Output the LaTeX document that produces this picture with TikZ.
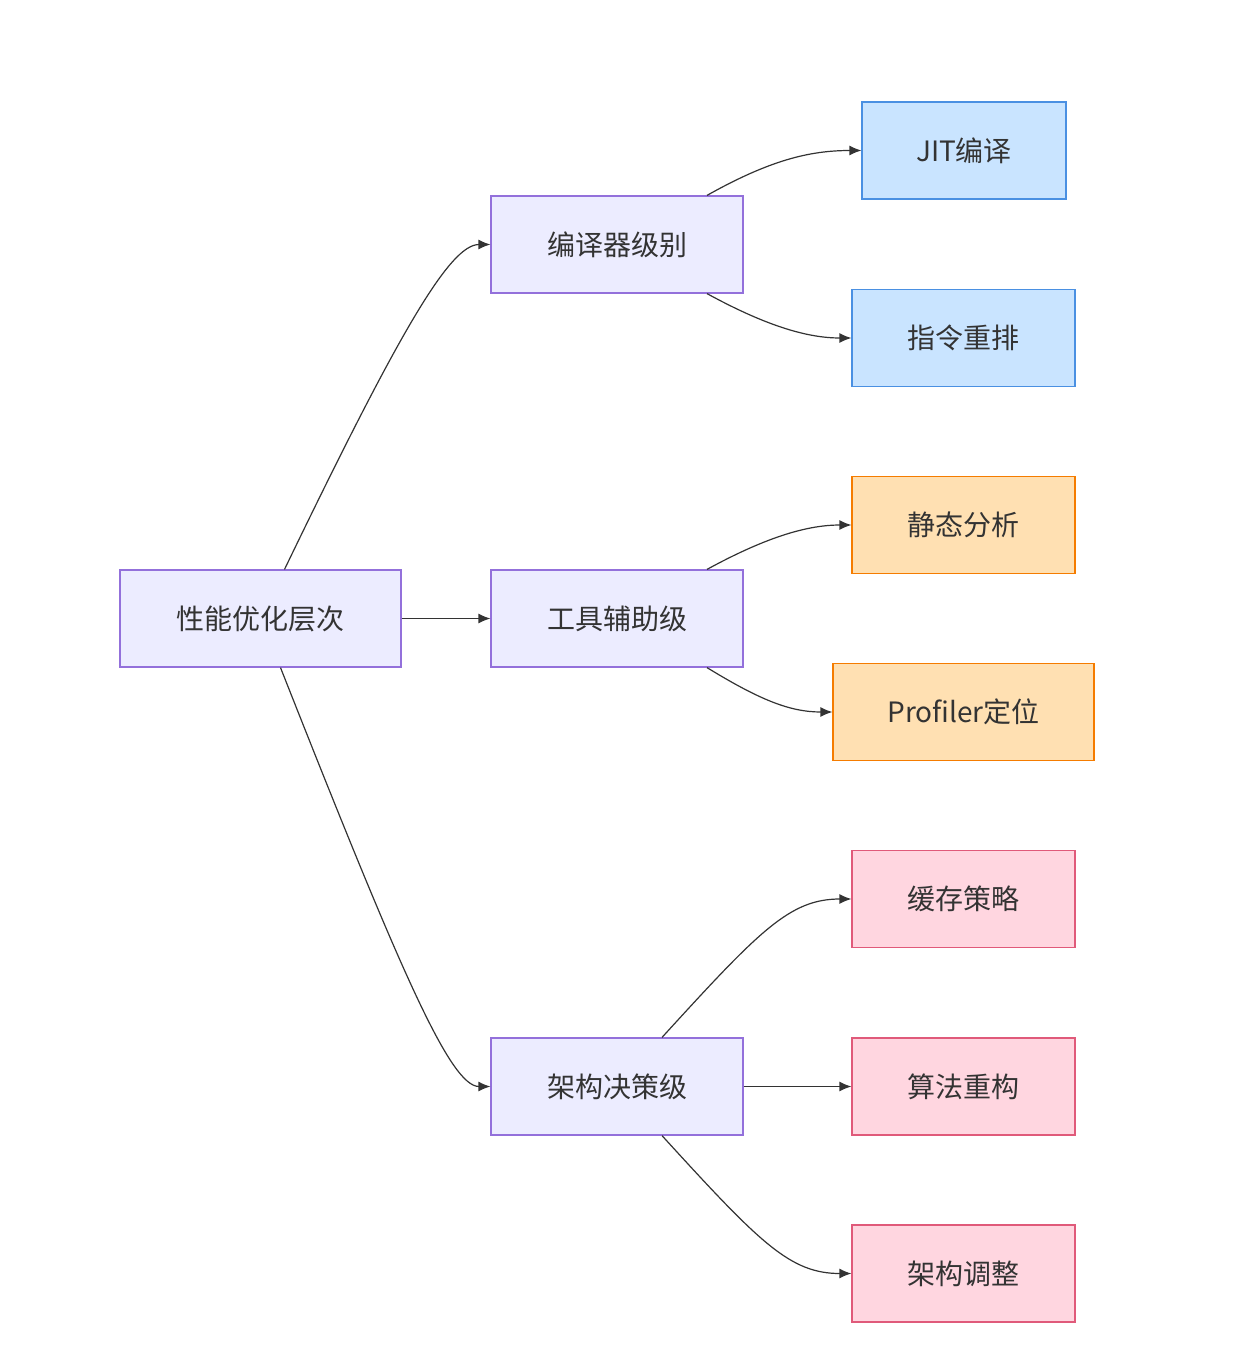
\documentclass[tikz,border=0pt]{standalone}
\usepackage{fontspec}
\setmainfont{Noto Sans CJK SC}
\usetikzlibrary{arrows.meta,calc}
\definecolor{pf}{HTML}{ECECFF}\definecolor{ps}{HTML}{9370DB}
\definecolor{bf}{HTML}{C9E4FF}\definecolor{bs}{HTML}{4A90E2}
\definecolor{of}{HTML}{FFE0B2}\definecolor{os}{HTML}{F57C00}
\definecolor{kf}{HTML}{FFD6E0}\definecolor{ks}{HTML}{E05A7A}
\definecolor{ln}{HTML}{333333}
\begin{document}
\begin{tikzpicture}[x=1pt,y=-1pt,
 box/.style={draw,line width=1.2pt,minimum height=97pt,font=\fontsize{28}{32}\selectfont,text=ln,inner sep=0pt},
 pu/.style={box,fill=pf,draw=ps},
 bl/.style={box,fill=bf,draw=bs},
 og/.style={box,fill=of,draw=os},
 pk/.style={box,fill=kf,draw=ks},
 ar/.style={draw=ln,line width=1.2pt,-{Latex[length=12pt,width=10pt]}}]
\useasboundingbox (0,0) rectangle (1236,1356);
\node[pu,minimum width=281pt] (r) at (260.5,618.5) {性能优化层次};
\node[pu,minimum width=252pt] (a) at (617,244.5) {编译器级别};
\node[pu,minimum width=252pt] (b) at (617,618.5) {工具辅助级};
\node[pu,minimum width=252pt] (c) at (617,1086.5) {架构决策级};
\node[bl,minimum width=204pt] (a1) at (964,150.5) {JIT编译};
\node[bl,minimum width=223pt] (a2) at (963.5,338) {指令重排};
\node[og,minimum width=223pt] (b1) at (963.5,525) {静态分析};
\node[og,minimum width=261pt] (b2) at (963.5,712) {Profiler定位};
\node[pk,minimum width=223pt] (c1) at (963.5,899) {缓存策略};
\node[pk,minimum width=223pt] (c2) at (963.5,1086.5) {算法重构};
\node[pk,minimum width=223pt] (c3) at (963.5,1273.5) {架构调整};
\draw[ar] ($(r.north)+(24,0)$) .. controls (400,330) and (450,244.5) .. (a.west);
\draw[ar] (r.east) -- (b.west);
\draw[ar] ($(r.south)+(20,0)$) .. controls (400,970) and (450,1086.5) .. (c.west);
\draw[ar] ($(a.north)+(90,0)$) .. controls (770,160) and (810,150.5) .. (a1.west);
\draw[ar] ($(a.south)+(90,0)$) .. controls (770,328) and (810,338) .. (a2.west);
\draw[ar] ($(b.north)+(90,0)$) .. controls (770,535) and (810,525) .. (b1.west);
\draw[ar] ($(b.south)+(90,0)$) .. controls (760,700) and (790,712) .. (b2.west);
\draw[ar] ($(c.north)+(45,0)$) .. controls (760,930) and (790,899) .. (c1.west);
\draw[ar] (c.east) -- (c2.west);
\draw[ar] ($(c.south)+(45,0)$) .. controls (760,1243) and (790,1273.5) .. (c3.west);
\end{tikzpicture}
\end{document}
